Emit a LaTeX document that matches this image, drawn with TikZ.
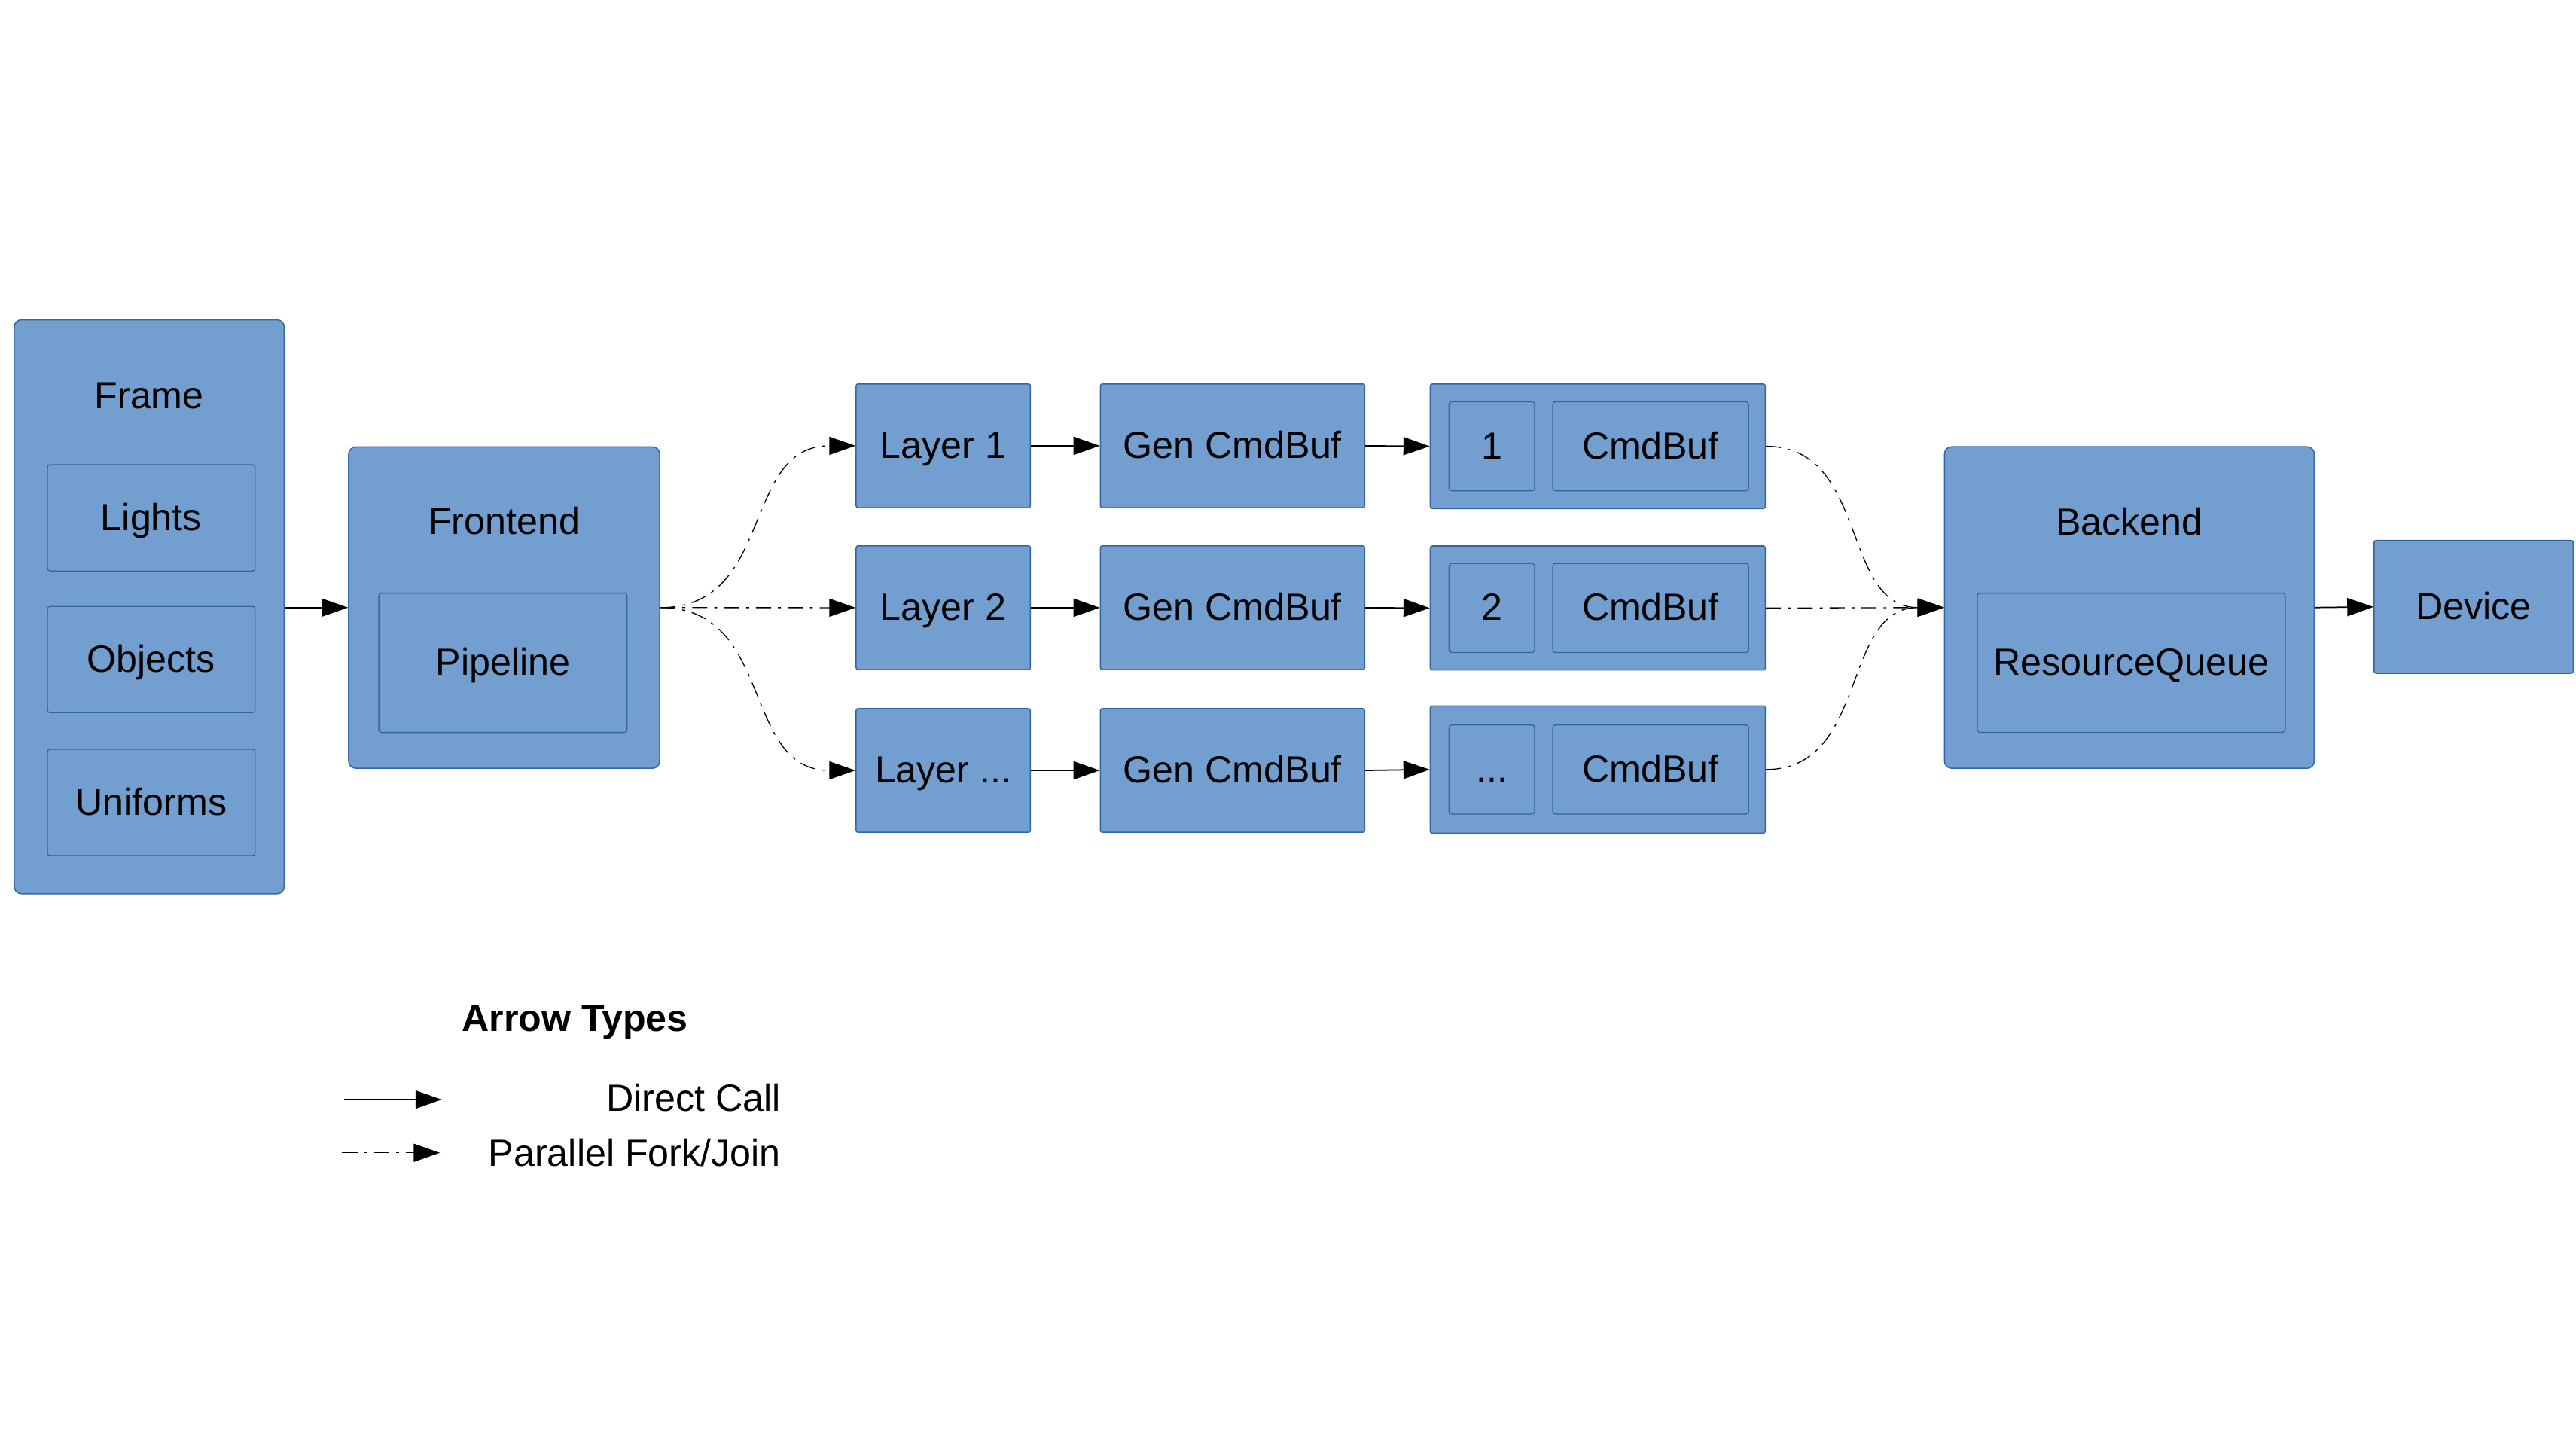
\documentclass[tikz,border=0pt]{standalone}
\usepackage{fontspec}
\setmainfont{Liberation Sans}
\usetikzlibrary{arrows.meta}
\definecolor{boxfill}{HTML}{729FCF}
\definecolor{boxline}{HTML}{3465A4}
\newcommand{\mydots}{...}
\tikzset{
  txt/.style={font=\fontsize{11.5pt}{14pt}\selectfont, text height=0.76em, text depth=0pt},
  outerbox/.style={draw=boxline, fill=boxfill, line width=0.35pt, rounded corners=2.2pt, inner sep=0pt},
  innerbox/.style={draw=boxline, fill=boxfill, line width=0.3pt, rounded corners=0.8pt, inner sep=0pt, txt},
  plainbox/.style={draw=boxline, fill=boxfill, line width=0.35pt, rounded corners=0.6pt, inner sep=0pt, txt},
  lbl/.style={txt, inner sep=0pt},
  direct/.style={draw=black, line width=0.4pt, -{Triangle[length=8pt, width=5.5pt]}},
  forkjoin/.style={draw=black, line width=0.3pt, dash pattern=on 4.6pt off 2.1pt on 0.9pt off 2.1pt, -{Triangle[length=8pt, width=5.5pt]}},
}
\begin{document}
\begin{tikzpicture}[x=0.5pt, y=-0.5pt]
\useasboundingbox (0,0) rectangle (1568,885.07);
% Frame
\node[outerbox, minimum width=82.15pt, minimum height=174.7pt] (frame) at (90.85,369.3) {};
\node[lbl] (frameT) at (90.85,241) {Frame};
\node[innerbox, minimum width=63.2pt, minimum height=32.35pt] (lights) at (92.1,315.15) {Lights};
\node[innerbox, minimum width=63.2pt, minimum height=32.35pt] (objects) at (92.1,401.4) {Objects};
\node[innerbox, minimum width=63.2pt, minimum height=32.35pt] (uniforms) at (92.1,488.35) {Uniforms};
% Frontend
\node[outerbox, minimum width=94.7pt, minimum height=97.8pt] (fe) at (306.9,369.8) {};
\node[lbl] (feT) at (306.9,317.6) {Frontend};
\node[innerbox, minimum width=75.55pt, minimum height=42.4pt] (pipe) at (306.15,403.4) {Pipeline};
% Rows
\foreach \i/\ly/\cy/\ch/\num in {1/271.3/271.6/37.9pt/1, 2/369.85/370.05/37.75pt/2, 3/468.9/468.35/38.75pt/\mydots}{
  \node[plainbox, minimum width=53.05pt, minimum height=37.65pt] (l\i) at (574.15,\ly) {Layer \num};
  \node[plainbox, minimum width=80.45pt, minimum height=37.65pt] (g\i) at (750.25,\ly) {Gen CmdBuf};
  \node[plainbox, minimum width=101.95pt, minimum height=\ch] (c\i) at (972.55,\cy) {};
  \node[innerbox, minimum width=26.05pt, minimum height=27.1pt] (n\i) at (908.05,\cy) {\num};
  \node[innerbox, minimum width=59.65pt, minimum height=27.1pt] (cb\i) at (1004.75,\cy) {CmdBuf};
  \draw[direct] (l\i.east) -- (g\i.west);
  \draw[direct] (g\i.east) -- (c\i.west);
}
% Backend
\node[outerbox, minimum width=112.55pt, minimum height=97.85pt] (be) at (1296.15,369.75) {};
\node[lbl] (beT) at (1296.15,317.9) {Backend};
\node[innerbox, minimum width=93.7pt, minimum height=42.35pt] (rq) at (1297.3,403.35) {ResourceQueue};
% Device
\node[plainbox, minimum width=60.6pt, minimum height=40.45pt] (dev) at (1505.7,369.35) {Device};
% Connectors
\draw[direct] (frame.east |- fe.west) -- (fe.west);
\draw[forkjoin] (fe.east) .. controls +(70,0) and +(-70,0) .. (l1.west);
\draw[forkjoin] (fe.east) -- (l2.west);
\draw[forkjoin] (fe.east) .. controls +(70,0) and +(-70,0) .. (l3.west);
\draw[forkjoin] (c1.east) .. controls +(63,0) and +(-63,0) .. (be.west);
\draw[forkjoin] (c2.east) -- (be.west);
\draw[forkjoin] (c3.east) .. controls +(63,0) and +(-63,0) .. (be.west);
\draw[direct] (be.east) -- (dev.west);
% Legend
\node[font=\fontsize{11.5pt}{14pt}\selectfont\bfseries, text height=0.76em, text depth=0pt, inner sep=0pt] (legT) at (350,619.9) {Arrow Types};
\coordinate (d1) at (209.5,669.2);
\coordinate (d2) at (268.9,669.2);
\draw[direct] (d1) -- (d2);
\node[lbl, anchor=east] (dT) at (475.5,668.5) {Direct Call};
\coordinate (p1) at (208.3,701.6);
\coordinate (p2) at (267.8,701.6);
\draw[forkjoin] (p1) -- (p2);
\node[lbl, anchor=east] (pT) at (475.5,702.3) {Parallel Fork/Join};
\end{tikzpicture}
\end{document}
